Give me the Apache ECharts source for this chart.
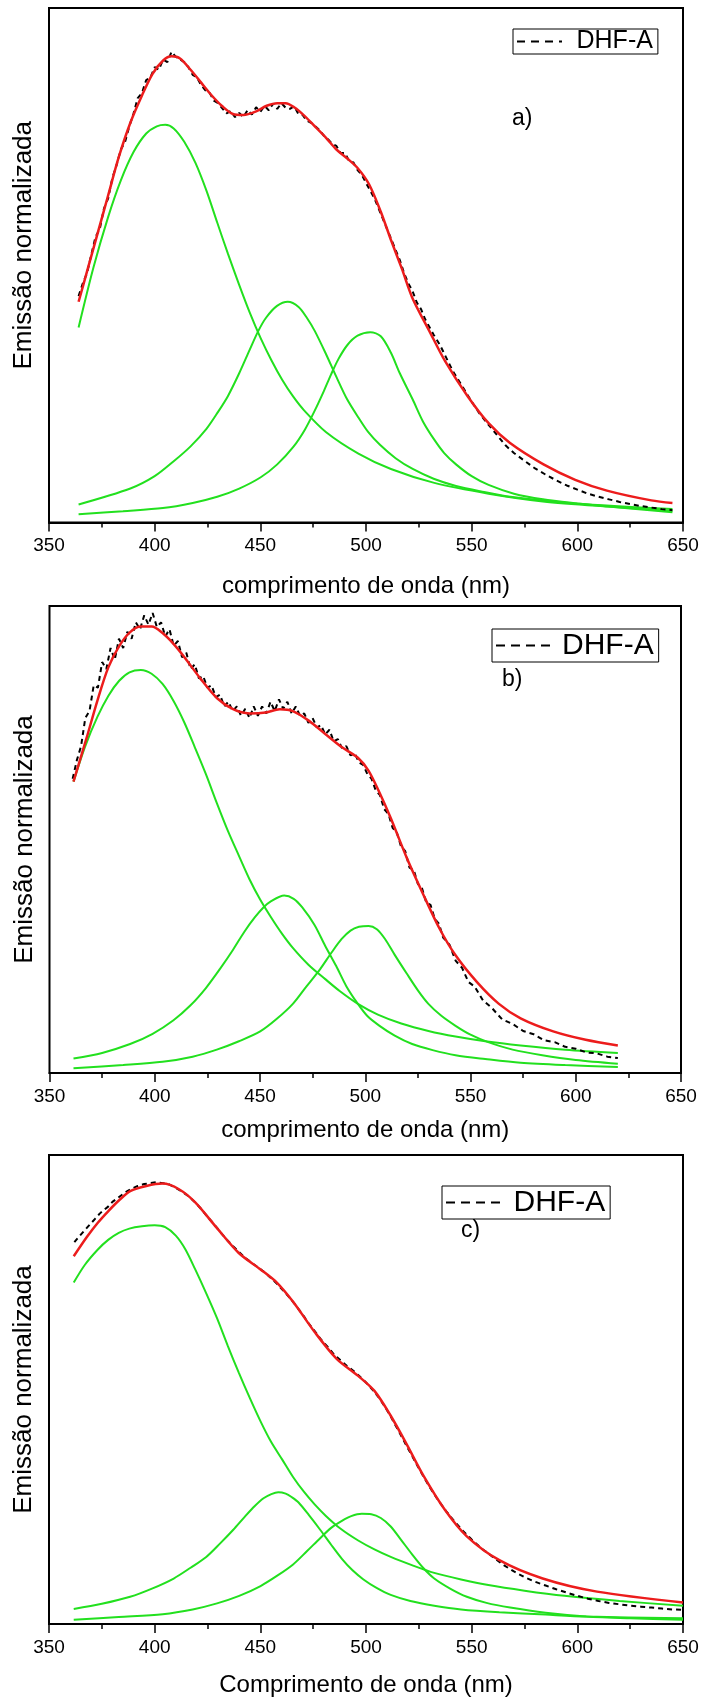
<!DOCTYPE html>
<html><head><meta charset="utf-8">
<script src="https://cdn.jsdelivr.net/npm/echarts@6/dist/echarts.min.js"></script>
<style>html,body{margin:0;padding:0;background:#fff}#c{width:702px;height:1700px}</style>
</head><body><div id="c"></div>
<script>
// ---------- tick labels / text ----------
const xTicks = [350, 400, 450, 500, 550, 600, 650];
const panelLabels = ['a)', 'b)', 'c)'];
const xTitles = ['comprimento de onda (nm)', 'comprimento de onda (nm)', 'Comprimento de onda (nm)'];
const yTitle = 'Emissão normalizada';
const legendName = 'DHF-A';

// ---------- panel a : [wavelength nm, normalized emission (% of panel height)] ----------
const aFit = [[364,42.9],[368,48.8],[373,56.2],[378,63.6],[383,71],[388.5,77.7],[394,83],[399,87.2],[404,89.8],[408,90.6],[412,90.2],[417,88],[422,85.5],[427,83],[432,80.9],[437,79.4],[442,79.2],[448,79.9],[453,81],[458,81.5],[462,81.5],[466,80.7],[471,79],[476,76.9],[481,74.8],[486,72.5],[491,70.8],[496,68.9],[501.5,65.7],[507,60.4],[512,54.7],[517,49.3],[522,43.6],[530,37.2],[537.5,31.3],[548,24.6],[558,19.3],[568,15.5],[584,11.3],[599,8.3],[614,6.2],[635,4.3],[645,3.8]];
const aData = [[364,44],[366,46.5],[368,48.5],[370,52],[372,55.5],[374,57],[376,61],[378,63],[380,67],[382,69.5],[384,72.5],[386,74],[388,77],[390,79.5],[392,82.5],[394,83.5],[396,86],[398,86.5],[400,88.5],[402,88],[404,90],[406,89.5],[408,91.5],[410,90.5],[412,90],[414,89.5],[416,88.5],[418,87],[420,86.5],[422,85],[424,84],[426,83.5],[428,82],[430,81.5],[432,80.5],[434,79.5],[436,80],[438,78.8],[440,79.6],[442,78.8],[444,80.2],[446,79.3],[448,80.7],[450,79.8],[452,81],[454,80.1],[456,81.4],[458,80.4],[460,81.5],[462,80.6],[464,80.4],[466,80.9],[468,79.4],[470,79.2],[472,78.1],[474,77.7],[476,77],[478,76.3],[480,75.2],[482,74.5],[484,73.6],[486,73.2],[488,71.8],[490,71.8],[492,70.3],[494,70],[496,68.5],[498,67.6],[500,66],[502,64.5],[504,63],[506,61],[508,59],[510,57],[512,55],[514,53],[516,51],[518,48.5],[520,46.5],[522,45],[524,42.8],[526,41.5],[528,39.5],[530,38],[532,36.5],[535,34.5],[538,32],[541,29.5],[544,27.5],[547,25.5],[550,23.5],[554,21],[558,19],[562,17],[566,15],[570,13.5],[575,12],[580,10.5],[585,9.3],[590,8.2],[595,7.2],[600,6.4],[605,5.6],[610,5],[615,4.5],[620,4],[625,3.6],[630,3.2],[635,2.9],[640,2.6],[645,2.4]];
const aPeak1 = [[364,37.9],[371,49.5],[378,59.4],[384,66.5],[390,72],[396,75.6],[401,77],[405,77.3],[409,76.6],[414,74],[419.3,69.9],[424.5,64.5],[429.6,58.3],[434.7,52.2],[439.9,46.3],[445,40.8],[450.2,35.8],[455.3,31.5],[460.4,27.7],[465.5,24.5],[470.7,21.8],[481,17.6],[496.4,13.4],[511.8,10.4],[532.3,7.7],[558,5.6],[583.7,4.1],[614.5,3.1],[645,2.3]];
const aPeak2 = [[364,3.5],[388.5,6.6],[400,9],[409,11.9],[417,14.8],[424.5,18.2],[430,21.5],[434.7,24.6],[440,29],[445,33.6],[449,37.2],[452.7,39.8],[457.9,42.1],[463,42.9],[468.1,41.9],[472,39.8],[475.8,37.2],[481,32.8],[486.1,28.2],[491,24],[496.4,20.4],[501,17.6],[506.6,15.1],[514,12.5],[522.1,10.4],[532,8.5],[542.6,7.1],[555,6],[568.3,5],[599.1,3.7],[645,2.6]];
const aPeak3 = [[364,1.6],[385,2.2],[403.9,2.8],[418,3.8],[429.6,5],[440,6.6],[450.2,8.8],[458,11.3],[465.6,14.7],[471,18],[475.8,21.8],[480,25.5],[483.5,28.8],[487,31.8],[491.2,34.5],[496,36.3],[502,37],[507,36.2],[511.8,33],[516,29],[522.1,23.9],[527,19.6],[532.3,16.1],[537,13.5],[542.6,11.3],[550,9],[558,7.3],[570,5.6],[583.7,4.5],[600,3.7],[614.5,3.1],[645,2]];

// ---------- panel b ----------
const bFit = [[361.4,62.4],[367.6,71.7],[372.8,79.8],[377.9,86.8],[383.1,91.4],[388.3,94.4],[393.4,95.6],[398.6,95.6],[403.7,94.2],[408.9,91.9],[414,89.1],[421.8,84.4],[429.5,80.3],[437.2,77.9],[445,77],[452.7,77.2],[459.4,77.9],[465.6,77.5],[473.3,75.4],[481,72.6],[488.8,69.8],[496.5,67.5],[501.6,64.7],[506.8,60],[512,54.7],[519.7,46.1],[527.4,38.4],[535.2,31],[542.9,25.2],[553.2,19.4],[563.5,14.8],[573.8,11.7],[589.3,8.9],[604.7,7.1],[620,5.9]];
const bData = [[361,63],[363,67],[365,70],[367,76],[369,77.5],[371,83],[373,82.5],[375,88],[377,86.5],[379,91],[381,88.5],[383,93],[385,91],[387,94.5],[389,93],[391,96.5],[393,95],[395,98],[397,96],[399,98.5],[401,95.5],[403,96.5],[405,93.5],[407,95],[409,91.5],[411,92.5],[413,89],[415,90],[417,86.5],[419,87.5],[421,84.5],[423,85],[425,82.5],[427,83],[429,80.5],[431,81],[433,78.5],[435,79.5],[437,77.5],[439,78.5],[441,76.5],[443,78],[445,76],[447,78.5],[449,76.5],[451,78.5],[453,77],[455,79.5],[457,77.5],[459,80],[461,78],[463,79.5],[465,77],[467,78.5],[469,76.5],[471,77],[473,75],[475,76],[477,74],[479,74.5],[481,72.5],[483,73.5],[485,71],[487,71.5],[489,69.5],[491,70],[493,68],[495,68.5],[497,66.5],[499,66],[501,64],[503,63],[505,60.5],[507,59.5],[509,56.5],[511,55.5],[513,52.5],[515,51.5],[517,48.5],[519,47.5],[521,44],[523,43.5],[525,40.5],[527,39.5],[529,36.5],[531,36],[533,33],[535,32],[537,29],[540,27.5],[543,24],[546,22.5],[549,19.5],[552,18.5],[556,15.5],[560,14],[565,11.5],[570,10.5],[575,9],[580,8.3],[585,7],[590,6.6],[595,5.6],[600,5.2],[605,4.4],[610,4.2],[615,3.5],[620,3.2]];
const bPeak1 = [[361.4,62.4],[367,70],[372.8,76.3],[378,80.8],[383.1,84],[388,85.8],[393.4,86.3],[398.5,85.5],[403.7,83.3],[409,79.6],[414,75.1],[419,69.8],[424.3,64],[429.5,57.8],[434.7,51.9],[440,46.5],[445,41.5],[450,37.2],[455.3,33.3],[460.5,29.8],[465.6,26.8],[473,23.2],[481,20.1],[488,17.5],[496.5,14.8],[506,12.5],[517.1,10.6],[530,9],[542.9,7.8],[557,6.8],[573.8,5.9],[595,5],[620,4.3]];
const bPeak2 = [[361.4,3.1],[375,4.3],[388.3,6.2],[399,8.4],[408.9,11.3],[417,14.5],[424.3,18.2],[431,22.3],[437.2,26.4],[442.5,30.2],[447.5,33.3],[451.5,35.4],[455.3,36.8],[461.5,38],[466,37.3],[470,35.5],[475.9,31.7],[481,27.2],[486.2,22.9],[491,18.6],[496.5,14.8],[501,12.2],[506.8,10.1],[514,8],[522.3,6.2],[532,4.9],[542.9,3.8],[557,3],[573.8,2.2],[595,1.7],[620,1.3]];
const bPeak3 = [[361.4,1],[385,1.7],[403.7,2.4],[418,3.5],[429.5,5],[440,6.8],[450.1,8.9],[458,11.6],[465.6,14.8],[472,18.5],[478.5,22.2],[484,25.8],[488.8,28.7],[493,30.5],[497,31.3],[501.6,31.5],[505.5,30.8],[509.4,28.7],[514,25.3],[519.7,21.3],[525,17.7],[530,14.8],[536,12.3],[542.9,10.1],[550,8.2],[558.4,6.6],[570,5],[584.1,3.8],[600,2.8],[620,2]];

// ---------- panel c ----------
const cFit = [[361.7,78.4],[367.9,82.5],[373,85.5],[378.2,88.1],[383.3,90.4],[388.4,92.3],[396.1,93.4],[403.8,93.9],[411.5,92.7],[419.2,89.9],[429.5,84.4],[439.8,79.1],[450.1,75.6],[457.8,72.8],[465.5,68.7],[475.8,62.2],[486,56.6],[496.3,52.9],[504,49.7],[511.7,44.4],[519.4,38.2],[527.1,31.7],[537.4,24.3],[547.7,18.7],[563.1,13.6],[583.6,9.7],[609.3,6.9],[650,4.6]];
const cData = [[362,81.4],[364,82.5],[366,83.5],[368,84.5],[370,85.5],[372,86.5],[374,87.5],[376,88.3],[378,89],[380,90],[383,91],[386,92],[389,92.8],[392,93.4],[395,93.8],[398,94],[401,94.2],[404,94],[407,93.7],[410,93],[413,92.2],[416,91.2],[419,90],[422,88.5],[425,86.8],[428,85.3],[431,83.6],[434,82],[437,80.6],[440,79.3],[443,78],[446,77],[449,76],[452,75],[455,73.8],[458,72.5],[461,71],[464,69.5],[467,67.8],[470,66],[473,64],[476,62.3],[479,60.5],[482,59],[485,57.4],[488,56.2],[491,55],[494,54],[497,52.8],[500,51.5],[503,50],[506,48.3],[509,46.3],[512,44],[515,41.5],[518,39],[521,36.5],[524,34],[527,31.6],[530,29.3],[534,26.5],[538,24],[542,21.8],[546,19.8],[550,18],[555,16],[560,14.3],[565,12.6],[570,11.2],[575,10],[580,9],[585,8.2],[590,7.4],[595,6.7],[600,6],[605,5.4],[610,4.9],[615,4.5],[620,4.2],[625,3.9],[630,3.7],[635,3.5],[640,3.3],[645,3.1],[650,3]];
const cPeak1 = [[361.7,72.8],[367,76.6],[373,79.8],[378,81.9],[383,83.4],[388,84.3],[394,84.8],[400,85],[405,84.6],[410,82.8],[414.5,79.9],[419.2,75.6],[424.3,70.6],[429.5,65.2],[434.6,59.3],[439.8,53.6],[445,48.2],[450.1,43.2],[455,38.9],[460.3,35.1],[465.4,31.4],[470.6,28.2],[475.7,25.5],[480.9,23.1],[488,20.3],[496.3,17.8],[504,15.9],[511.7,14.3],[522,12.5],[532.3,10.9],[545,9.5],[557.9,8.3],[575,7.1],[593.9,6],[620,4.9],[650,3.9]];
const cPeak2 = [[361.7,3.2],[375,4.3],[388.4,5.8],[399,7.6],[409,9.7],[417,12],[424.4,14.3],[431,17.2],[437.2,20.1],[442.5,22.8],[447.5,25.2],[451.5,26.8],[455.2,27.7],[458.5,28.1],[462,27.8],[465,27],[468.1,25.9],[473,23.2],[478.3,20.1],[483.5,16.9],[488.6,13.9],[493.5,11.5],[498.8,9.5],[505,7.7],[511.7,6.2],[521,4.9],[532.3,3.9],[545,3.1],[563.1,2.5],[585,2],[604.2,1.6],[650,1.2]];
const cPeak3 = [[361.7,0.9],[383,1.5],[403.8,2.1],[418,3.1],[429.5,4.4],[440,6],[450.1,8.1],[458,10.3],[465.5,12.7],[472,15.5],[478.3,18.3],[483.5,20.5],[488.6,22],[493,23],[498,23.5],[502.5,23.4],[507,22.6],[511.7,20.8],[516.5,18],[521.9,14.8],[527,12],[532.3,9.7],[540,7.5],[547.7,5.8],[557,4.5],[568.2,3.5],[585,2.4],[604.2,1.6],[625,1.2],[650,0.9]];

const panels = [
  {fit: aFit, data: aData, peaks: [aPeak1, aPeak2, aPeak3]},
  {fit: bFit, data: bData, peaks: [bPeak1, bPeak2, bPeak3]},
  {fit: cFit, data: cData, peaks: [cPeak1, cPeak2, cPeak3]}
];

// ---------- layout / style ----------
const FONT = "'Liberation Sans', Arial, sans-serif";
const GREEN = '#22e01e', RED = '#ec1c1c';
const gridBoxes = [
  {left: 49, top: 8, width: 634, height: 514.5},
  {left: 49.5, top: 606, width: 631.5, height: 467},
  {left: 49, top: 1155, width: 634, height: 469}
];
const xNameGaps = [52, 45, 49];
const ICON_A = 'path://M0,0h8v2h-8z M14,0h8v2h-8z M28,0h8v2h-8z M42,0h3v2h-3z';
const ICON_BC = 'path://M0,0h9v2h-9z M15,0h9v2h-9z M30,0h9v2h-9z M45,0h9v2h-9z';
const legendBoxes = [
  {left: 513, top: 29, font: 25, lh: 22, itemWidth: 58, icon: ICON_A, gap: 8},
  {left: 492, top: 629, font: 30, lh: 33, itemWidth: 60, icon: ICON_BC, gap: 9},
  {left: 442, top: 1186, font: 30, lh: 33, itemWidth: 61, icon: ICON_BC, gap: 10}
];
const labelPos = [{left: 512, top: 107}, {left: 502, top: 668}, {left: 461, top: 1219}];
const yNamePad = [[0, 0, 0, 40], [0, 0, 0, 0], [0, 0, 0, 0]];

const chart = echarts.init(document.getElementById('c'), null, {renderer: 'canvas'});
const option = {
  animation: false,
  backgroundColor: '#fff',
  textStyle: {fontFamily: FONT, color: '#000'},
  grid: gridBoxes.map(g => Object.assign({show: true, borderColor: '#000', borderWidth: 2, backgroundColor: 'transparent'}, g)),
  xAxis: gridBoxes.map((g, i) => ({
    type: 'value', gridIndex: i, min: xTicks[0], max: xTicks[xTicks.length - 1], interval: 50,
    name: xTitles[i], nameLocation: 'middle', nameGap: xNameGaps[i],
    nameTextStyle: {fontSize: 24, fontFamily: FONT, color: '#000'},
    axisLine: {show: true, onZero: false, lineStyle: {color: '#000', width: 2}},
    axisTick: {show: true, inside: false, length: 9, lineStyle: {color: '#000', width: 1.5}},
    minorTick: {show: true, splitNumber: 2, length: 5, lineStyle: {color: '#000', width: 1.5}},
    splitLine: {show: false}, minorSplitLine: {show: false},
    axisLabel: {fontSize: 19, fontFamily: FONT, color: '#000', margin: 14}
  })),
  yAxis: gridBoxes.map((g, i) => ({
    type: 'value', gridIndex: i, min: 0, max: 100,
    name: yTitle, nameLocation: 'middle', nameGap: 12, nameRotate: 90,
    nameTextStyle: {fontSize: 26, fontFamily: FONT, color: '#000', padding: yNamePad[i]},
    axisLine: {show: false}, axisTick: {show: false}, axisLabel: {show: false}, splitLine: {show: false}
  })),
  legend: legendBoxes.map(l => ({
    data: [{name: legendName, icon: l.icon}], left: l.left, top: l.top, orient: 'horizontal',
    borderColor: '#000', borderWidth: 1, padding: [0, 5, 0, 4],
    itemWidth: l.itemWidth, itemHeight: 2, itemGap: 6,
    selectedMode: false,
    itemStyle: {color: '#000', borderWidth: 0},
    textStyle: {fontSize: l.font, lineHeight: l.lh, fontFamily: FONT, color: '#000', padding: [0, 0, 0, l.gap - 5]}
  })),
  title: labelPos.map((p, i) => ({
    text: panelLabels[i], left: p.left, top: p.top, padding: 0,
    textStyle: {fontSize: 23, fontWeight: 'normal', fontFamily: FONT, color: '#000'}
  })),
  series: []
};
panels.forEach((p, i) => {
  p.peaks.forEach(pk => option.series.push({
    type: 'line', xAxisIndex: i, yAxisIndex: i, data: pk, smooth: 0.3, symbol: 'none',
    lineStyle: {color: GREEN, width: 2}, silent: true, z: 2
  }));
  option.series.push({
    name: legendName, type: 'line', xAxisIndex: i, yAxisIndex: i, data: p.data, symbol: 'none',
    lineStyle: {color: '#000', width: 2, type: [5, 4]}, itemStyle: {color: '#000'}, z: 3
  });
  option.series.push({
    type: 'line', xAxisIndex: i, yAxisIndex: i, data: p.fit, smooth: 0.3, symbol: 'none',
    lineStyle: {color: RED, width: 2.5}, silent: true, z: 4
  });
});
chart.setOption(option);
</script>
</body></html>
